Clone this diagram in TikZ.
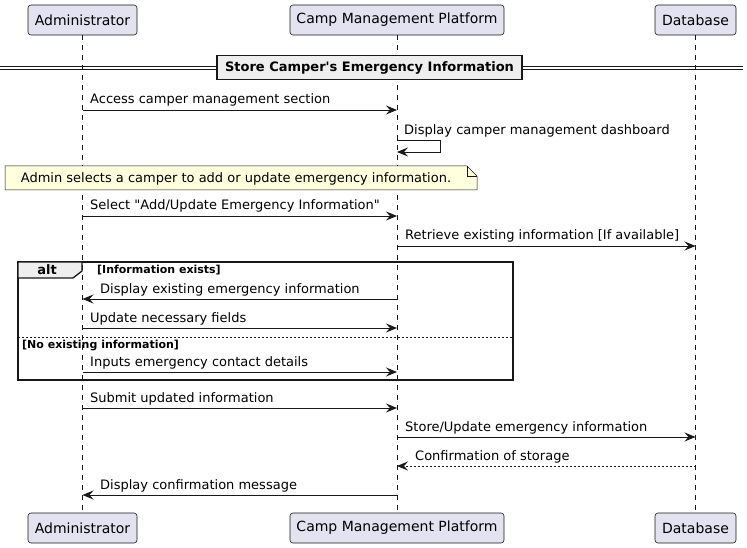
\documentclass[tikz,border=0pt]{standalone}
\usepackage{fontspec}
\setmainfont{DejaVu Sans}[Ligatures=TeXOff]
\usetikzlibrary{arrows.meta}
\definecolor{ln}{HTML}{181818}
\definecolor{pfill}{HTML}{E2E2F0}
\definecolor{nfill}{HTML}{FEFFDD}
\definecolor{gfill}{HTML}{EEEEEE}
\begin{document}
\begin{tikzpicture}[x=1pt,y=-1pt,
  part/.style={draw=ln, fill=pfill, rounded corners=3pt, minimum height=30pt, inner sep=0pt, font=\fontsize{14}{16}\selectfont, line width=0.6pt},
  life/.style={draw=ln, line width=0.5pt, dash pattern=on 5pt off 5pt},
  msg/.style={draw=ln, line width=0.9pt, -{Stealth[length=11pt,width=9pt,inset=4pt]}},
  rmsg/.style={msg, dash pattern=on 2pt off 2pt},
  lbl/.style={inner sep=0pt, font=\fontsize{13}{15}\selectfont, text=black},
  grd/.style={inner sep=0pt, font=\fontsize{11}{13}\selectfont\bfseries, text=black}
]
\useasboundingbox (0,0) rectangle (747,548);
% participants
\node[part, minimum width=109pt] (a1) at (82.5,20) {Administrator};
\node[part, minimum width=214pt] (b1) at (397,20) {Camp Management Platform};
\node[part, minimum width=81pt] (c1) at (695.5,20) {Database};
\node[part, minimum width=109pt] (a2) at (82.5,528) {Administrator};
\node[part, minimum width=214pt] (b2) at (397,528) {Camp Management Platform};
\node[part, minimum width=81pt] (c2) at (695.5,528) {Database};
\draw[life] (a1.south) -- (a2.north);
\draw[life] (b1.south) -- (b2.north);
\draw[life] (c1.south) -- (c2.north);
% divider
\draw[ln, line width=0.8pt] (0,66) -- (743,66) (0,69) -- (743,69);
\node[draw=ln, fill=gfill, line width=1.6pt, minimum width=305pt, minimum height=24pt, inner sep=0pt,
  font=\fontsize{13}{15}\selectfont\bfseries] (div) at (369.5,67.5) {Store Camper's Emergency Information};
% message 1
\draw[msg] (a1 |- 0,110) -- (b1 |- 0,110);
\node[lbl, anchor=base west] (t1) at (90,104) {Access camper management section};
% self message
\coordinate (s1) at (440,140);
\coordinate (s2) at (440,152);
\draw[msg] (b1 |- 0,140) -- (s1) -- (s2) -- (b1 |- 0,152);
\node[lbl, anchor=base west] (t2) at (404,135) {Display camper management dashboard};
% note
\draw[draw=ln, fill=nfill, line width=0.5pt] (5,166) -- (467,166) -- (477,176) -- (477,190) -- (5,190) -- cycle;
\draw[draw=ln, line width=0.5pt] (467,166) -- (467,176) -- (477,176);
\node[lbl, anchor=base] (note) at (236,183) {Admin selects a camper to add or update emergency information.};
% select
\draw[msg] (a1 |- 0,216) -- (b1 |- 0,216);
\node[lbl, anchor=base west] (t3) at (90,210) {Select "Add/Update Emergency Information"};
\draw[msg] (b1 |- 0,246) -- (c1 |- 0,246);
\node[lbl, anchor=base west] (t4) at (405,240) {Retrieve existing information [If available]};
% alt frame
\draw[ln, line width=1.3pt] (18,262) rectangle (513,380);
\draw[ln, line width=1.3pt, fill=gfill] (18,262) -- (82,262) -- (82,271) -- (73,278) -- (18,278) -- cycle;
\node[lbl, font=\fontsize{13}{15}\selectfont\bfseries, anchor=base] (alt) at (47,274) {alt};
\node[grd, anchor=base west] (g1) at (97,273) {[Information exists]};
\draw[msg] (b1 |- 0,299) -- (a1 |- 0,299);
\node[lbl, anchor=base west] (t5) at (100,293) {Display existing emergency information};
\draw[msg] (a1 |- 0,328) -- (b1 |- 0,328);
\node[lbl, anchor=base west] (t6) at (90,322) {Update necessary fields};
\draw[ln, line width=0.7pt, dash pattern=on 2pt off 2pt] (18,337) -- (513,337);
\node[grd, anchor=base west] (g2) at (22,348) {[No existing information]};
\draw[msg] (a1 |- 0,372) -- (b1 |- 0,372);
\node[lbl, anchor=base west] (t7) at (90,366) {Inputs emergency contact details};
% rest
\draw[msg] (a1 |- 0,408) -- (b1 |- 0,408);
\node[lbl, anchor=base west] (t8) at (90,402) {Submit updated information};
\draw[msg] (b1 |- 0,437) -- (c1 |- 0,437);
\node[lbl, anchor=base west] (t9) at (405,431) {Store/Update emergency information};
\draw[rmsg] (c1 |- 0,466) -- (b1 |- 0,466);
\node[lbl, anchor=base west] (t10) at (415,460) {Confirmation of storage};
\draw[msg] (b1 |- 0,495) -- (a1 |- 0,495);
\node[lbl, anchor=base west] (t11) at (100,489) {Display confirmation message};
\end{tikzpicture}
\end{document}
